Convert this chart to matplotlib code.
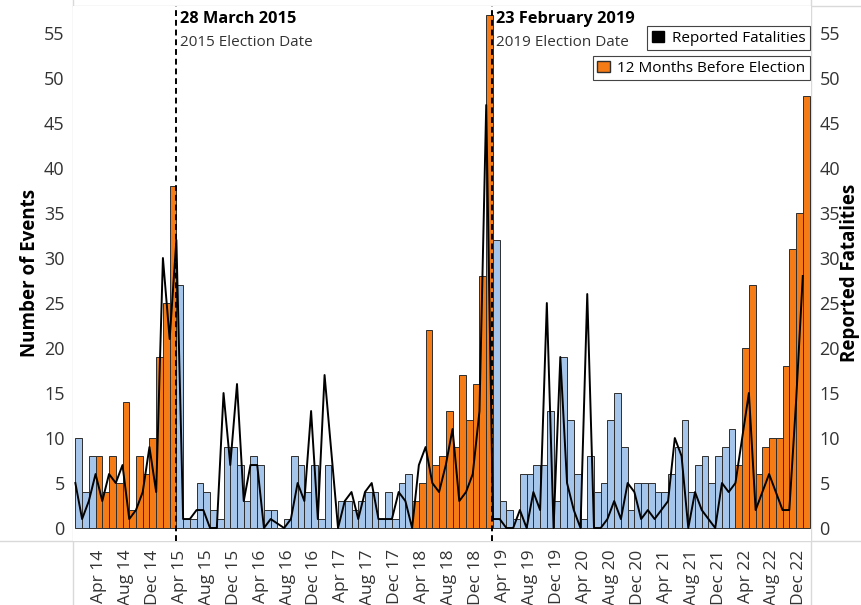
import numpy as np
import pandas as pd
import matplotlib
matplotlib.use("Agg")
import matplotlib.pyplot as plt
from matplotlib.patches import Patch
from matplotlib.lines import Line2D

plt.rcParams['font.family'] = ['Open Sans', 'DejaVu Sans']

# Monthly data, Jan 2014 - Jan 2023 (None = no data that month)
start = "2014-01"
events = [10, 4, 8, 8, 4, 8, 5, 14, 2, 8, 6, 10, 19, 25, 38,
          27, 1, 1, 5, 4, 2, 1, 9, 9, 7, 3, 8, 7, 2, 2, None, 1, 8, 7, 4, 7, 1, 7, None,
          3, 3, 2, 3, 4, 4, 1, 4, 1, 5, 6,
          3, 5, 22, 7, 8, 13, 9, 17, 12, 16, 28, 57,
          32, 3, 2, 1, 6, 6, 7, 7, 13, 3, 19, 12, 6, 1, 8, 4, 5, 12, 15, 9, 2,
          5, 5, 5, 4, 4, 6, 9, 12, 4, 7, 8, 5, 8, 9, 11,
          7, 20, 27, 6, 9, 10, 10, 18, 31, 35, 48]
fatalities = [5, 1, 3, 6, 3, 6, 5, 7, 1, 2, 4, 9, 4, 30, 21,
              32, 1, 1, 2, 2, 0, 0, 15, 7, 16, 3, 7, 7, 0, 1, None, 0, 1, 5, 3, 13, 1, 17, None,
              0, 3, 4, 1, 4, 5, 1, 1, 1, 4, 3,
              0, 7, 9, 5, 4, 7, 11, 3, 4, 6, 13, 47,
              1, 1, 0, 0, 2, 0, 4, 2, 25, 0, 19, 5, 2, 0, 26, 0, 0, 1, 3, 1, 5,
              4, 1, 2, 1, 2, 3, 10, 8, 0, 4, 2, 1, 0, 5, 4,
              5, 10, 15, 2, 4, 6, 4, 2, 2, 14, 28]

elections = ["2015-03-28", "2019-02-23"]
election_titles = ["28 March 2015", "23 February 2019"]
election_subtitles = ["2015 Election Date", "2019 Election Date"]
all_elections = ["2015-03-28", "2019-02-23", "2023-02-25"]

orange = "#F47B16"
blue = "#A5C6EA"
frame_gray = "#D9D9D9"

months = pd.date_range(start, periods=len(events), freq="MS")
ev = np.array([np.nan if v is None else v for v in events], dtype=float)
fat = np.array([np.nan if v is None else v for v in fatalities], dtype=float)
x = np.arange(len(months))

# 12 months before each election (election month included)
pre = np.zeros(len(months), dtype=bool)
for d in all_elections:
    e = pd.Timestamp(d)
    diff = (e.year - months.year) * 12 + (e.month - months.month)
    pre |= (np.asarray(diff) >= 0) & (np.asarray(diff) < 12)
colors = [orange if f else blue for f in pre]

fig = plt.figure(figsize=(8.61, 6.05), dpi=100)
W, H = 861, 605
L, R, T, B = 73, 811, 6, 541
ax = fig.add_axes([L / W, 1 - B / H, (R - L) / W, (B - T) / H])

ax.bar(x, np.nan_to_num(ev), width=1, align='edge', color=colors,
       edgecolor='#2e2e2e', linewidth=0.7, zorder=2)

ylim = (-1.44, 58.0)
ax.set_ylim(*ylim)
ax.set_xlim(-0.35, len(months) + 0.22)
ax.set_yticks(range(0, 56, 5))
ax.tick_params(axis='y', length=0, labelsize=13, labelcolor='#333333', pad=6)

ax.set_xticks(x[3::4] + 0.5)
ax.set_xticklabels(months[3::4].strftime("%b %y"), rotation=90)
ax.tick_params(axis='x', length=0, labelsize=12.5, labelcolor='#333333', pad=6)

for s in ax.spines.values():
    s.set_visible(False)

ax2 = ax.twinx()
ax2.set_ylim(*ylim)
ok = ~np.isnan(fat)
ax2.plot(x[ok], fat[ok], color='black', linewidth=1.4, zorder=3)
ax2.set_yticks(range(0, 56, 5))
ax2.tick_params(axis='y', length=0, labelsize=13, labelcolor='#333333', pad=6)
for s in ax2.spines.values():
    s.set_visible(False)

# election date lines
for d, t1, t2 in zip(elections, election_titles, election_subtitles):
    ts = pd.Timestamp(d)
    xe = (ts.year - months[0].year) * 12 + (ts.month - 1) + (ts.day - 1) / ts.days_in_month
    ax2.axvline(xe, color='black', linestyle=(0, (3, 2)), linewidth=1.4, zorder=4)
    ax2.text(xe + 0.7, 56.6, t1, fontsize=11.8, fontweight='bold', va='center', ha='left')
    ax2.text(xe + 0.7, 54.0, t2, fontsize=11, va='center', ha='left', color='#333333')

# legends
leg_kw = dict(loc='upper right', borderaxespad=0, fontsize=11, fancybox=False,
              framealpha=1, edgecolor='#444444', handlelength=0.8, handleheight=0.8,
              handletextpad=0.5, borderpad=0.3)
leg1 = ax2.legend(handles=[Patch(facecolor='black', edgecolor='black')],
                  labels=["Reported Fatalities"], bbox_to_anchor=(0.9986, 0.9626), **leg_kw)
leg1.get_frame().set_linewidth(0.8)
ax2.add_artist(leg1)
leg2 = ax2.legend(handles=[Patch(facecolor=orange, edgecolor='#2e2e2e')],
                  labels=["12 Months Before Election"], bbox_to_anchor=(0.9986, 0.9065), **leg_kw)
leg2.get_frame().set_linewidth(0.8)

# axis titles
fig.text(30 / W, 1 - 273 / H, "Number of Events", rotation=90, fontsize=13.5,
         fontweight='bold', ha='center', va='center')
fig.text(850 / W, 1 - 273 / H, "Reported Fatalities", rotation=90, fontsize=13.5,
         fontweight='bold', ha='center', va='center')

# light frame lines
for (x0, y0, x1, y1) in [(0, B, W, B), (L, T, W, T), (L, 0, L, H), (R, 0, R, H)]:
    fig.add_artist(Line2D([x0 / W, x1 / W], [1 - y0 / H, 1 - y1 / H],
                          color=frame_gray, linewidth=1.0, zorder=0))

fig.savefig("out.png", dpi=100)
